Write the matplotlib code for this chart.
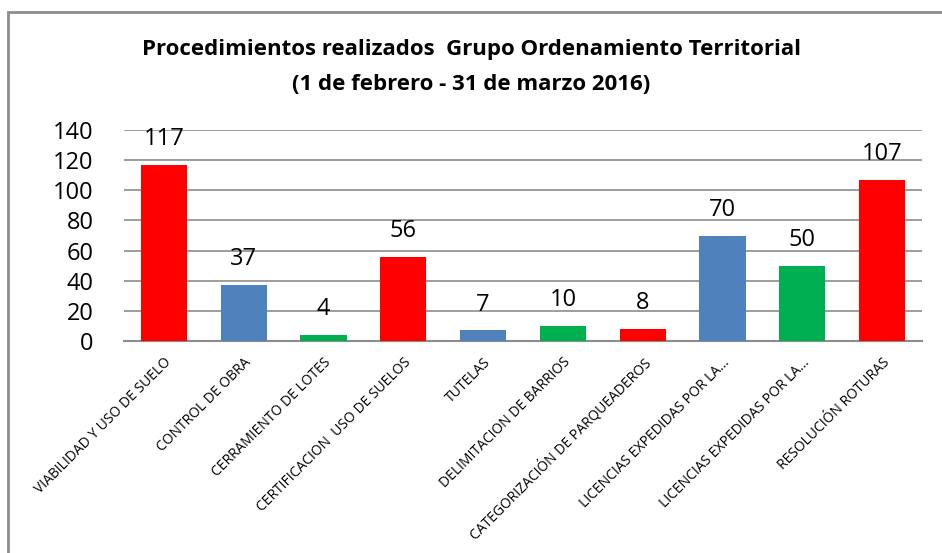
import matplotlib
matplotlib.use("Agg")
import matplotlib.pyplot as plt
from matplotlib.patches import Rectangle

categories = ["VIABILIDAD Y USO DE SUELO", "CONTROL DE OBRA", "CERRAMIENTO DE LOTES",
              "CERTIFICACION  USO DE SUELOS", "TUTELAS", "DELIMITACION DE BARRIOS",
              "CATEGORIZACIÓN DE PARQUEADEROS", "LICENCIAS EXPEDIDAS POR LA...",
              "LICENCIAS EXPEDIDAS POR LA...", "RESOLUCIÓN ROTURAS"]
values = [117, 37, 4, 56, 7, 10, 8, 70, 50, 107]
bar_colors = ["#FF0000", "#4F81BD", "#00B050", "#FF0000", "#4F81BD",
              "#00B050", "#FF0000", "#4F81BD", "#00B050", "#FF0000"]
yticks = [0, 20, 40, 60, 80, 100, 120, 140]
title = "Procedimientos realizados  Grupo Ordenamiento Territorial\n(1 de febrero - 31 de marzo 2016)"

plt.rcParams['font.family'] = ['Open Sans', 'DejaVu Sans']

W, H = 942, 553
fig = plt.figure(figsize=(W / 100, H / 100), dpi=100)
fig.patches.append(Rectangle((8 / W, -0.1), 1.2, (H - 12) / H + 0.1, transform=fig.transFigure,
                             fill=False, edgecolor="#8C8C8C", linewidth=2))

ax = fig.add_axes([124 / W, 1 - 341 / H, (922 - 124) / W, (341 - 130) / H])
x = list(range(len(categories)))
ax.bar(x, values, width=0.58, color=bar_colors, zorder=3)
ax.set_xlim(-0.5, len(categories) - 0.5)
ax.set_ylim(0, 140)
ax.set_yticks(yticks)
ax.set_yticklabels([str(t) for t in yticks], fontsize=17)
ax.grid(axis="y", color="#8C8C8C", linewidth=1.2, zorder=0)
for s in ["top", "right", "left"]:
    ax.spines[s].set_visible(False)
ax.spines["bottom"].set_color("#8C8C8C")
ax.spines["bottom"].set_linewidth(1.5)
ax.tick_params(axis="y", length=0, pad=22)
ax.tick_params(axis="x", length=0, pad=10)
ax.set_xticks(x)
ax.set_xticklabels(categories, rotation=45, ha="right", rotation_mode="anchor", fontsize=10)
for xi, v in zip(x, values):
    ax.annotate(str(v), (xi, v), xytext=(0, 10), textcoords="offset points",
                ha="center", va="bottom", fontsize=17)

fig.text(0.5, 1 - 67 / H, title, ha="center", va="center", fontsize=16, fontweight="bold",
         linespacing=1.85)

fig.savefig("out.png", dpi=100)
